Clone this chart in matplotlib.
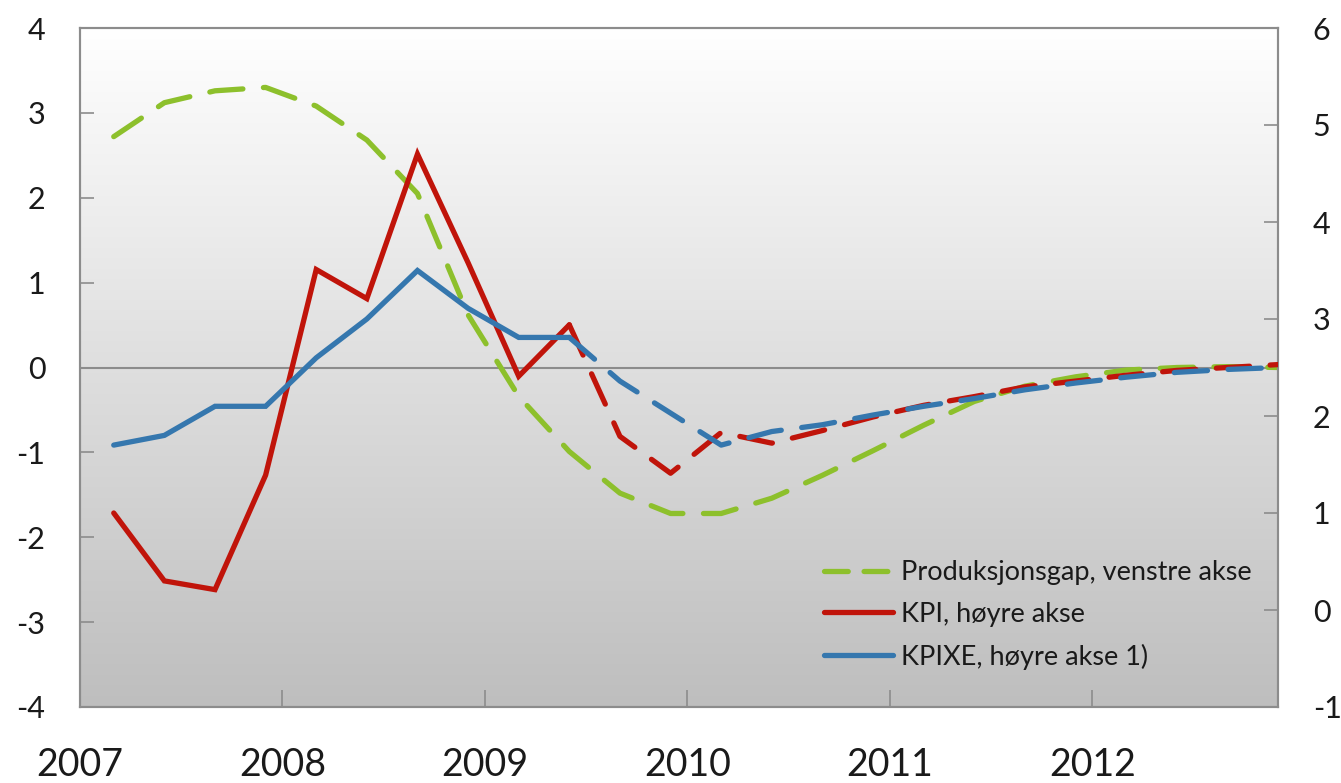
import matplotlib
matplotlib.use("Agg")
import matplotlib.pyplot as plt
import numpy as np
from matplotlib.lines import Line2D
from matplotlib.colors import LinearSegmentedColormap

# ---------------- data ----------------
quarters = [f"{y}Q{q}" for y in range(2007, 2013) for q in range(1, 5)]
produksjonsgap = [2.72, 3.12, 3.26, 3.30, 3.08, 2.68, 2.05, 0.62, -0.34, -0.99,
                  -1.48, -1.72, -1.72, -1.54, -1.27, -0.98, -0.68, -0.40, -0.22,
                  -0.11, -0.03, 0.0, 0.01, 0.0]
kpi = [1.00, 0.30, 0.21, 1.39, 3.51, 3.21, 4.70, 3.58, 2.41, 2.94, 1.79, 1.41,
       1.83, 1.72, 1.85, 1.99, 2.11, 2.20, 2.30, 2.36, 2.42, 2.47, 2.50, 2.53]
kpixe = [1.70, 1.80, 2.10, 2.10, 2.60, 3.00, 3.50, 3.11, 2.81, 2.81, 2.36, 2.03,
         1.70, 1.84, 1.91, 2.01, 2.10, 2.18, 2.27, 2.34, 2.40, 2.45, 2.48, 2.50]
last_actual = "2009Q2"   # red/blue solid up to here, dashed (projection) after
year_ticks = [2007, 2008, 2009, 2010, 2011, 2012]
left_ticks = [-4, -3, -2, -1, 0, 1, 2, 3, 4]
right_ticks = [-1, 0, 1, 2, 3, 4, 5, 6]
labels = ["Produksjonsgap, venstre akse", "KPI, høyre akse", "KPIXE, høyre akse 1)"]

# --------------- positions ----------------
def qpos(s):
    y, q = s.split("Q")
    return int(y) + (int(q) - 1) / 4 + 1 / 6

x = np.array([qpos(s) for s in quarters])
split = quarters.index(last_actual)

GREEN = "#8DC02C"
RED = "#C0140A"
BLUE = "#3577AE"
GRAY = "#8C8C8C"
TXT = "#1A1A1A"

plt.rcParams["font.family"] = ["Lato", "DejaVu Sans"]

fig = plt.figure(figsize=(13.41, 7.83), dpi=100)
ax = fig.add_axes([80 / 1341, 1 - 707 / 783, (1278 - 80) / 1341, (707 - 28) / 783])
ax2 = ax.twinx()

# background gradient
grad = np.linspace(1.0, 0.0, 256).reshape(-1, 1)
cmap = LinearSegmentedColormap.from_list("bg", ["#BEBEBE", "#FFFFFF"])
ax.imshow(grad, extent=[0, 1, 0, 1], transform=ax.transAxes, aspect="auto",
          cmap=cmap, zorder=0, origin="upper", vmin=0, vmax=1)

ax.set_xlim(2007, x[-1])
ax.set_ylim(-4, 4)
ax2.set_ylim(-1, 6)

ax.axhline(0, color=GRAY, lw=1.5, zorder=1)

lw = 3.8
dash = (6.3, 3.9)
ax.plot(x, produksjonsgap, color=GREEN, lw=lw, linestyle=(0, dash),
        dash_capstyle="round", zorder=2)

ax2.plot(x[:split + 1], kpi[:split + 1], color=RED, lw=lw, solid_capstyle="round",
         solid_joinstyle="miter", zorder=3)
ax2.plot(x[split:], kpi[split:], color=RED, lw=lw, linestyle=(0, dash),
         dash_capstyle="round", zorder=3)
ax2.plot(x[:split + 1], kpixe[:split + 1], color=BLUE, lw=lw, solid_capstyle="round",
         solid_joinstyle="miter", zorder=4)
ax2.plot(x[split:], kpixe[split:], color=BLUE, lw=lw, linestyle=(0, dash),
         dash_capstyle="round", zorder=4)

# ticks & spines
ax.set_xticks(year_ticks)
ax.set_xticklabels([str(y) for y in year_ticks],
                   family=["Liberation Sans Narrow", "Lato", "DejaVu Sans"])
ax.set_yticks(left_ticks)
ax.set_yticklabels([str(v) for v in left_ticks])
ax2.set_yticks(right_ticks)
ax2.set_yticklabels([str(v) for v in right_ticks])

for a in (ax, ax2):
    for sp in a.spines.values():
        sp.set_color(GRAY)
        sp.set_linewidth(1.5)
ax.tick_params(axis="x", direction="in", length=12, width=1.2, color=GRAY,
               pad=29, labelsize=27, labelcolor=TXT)
ax.tick_params(axis="y", direction="in", length=10, width=1.2, color=GRAY,
               pad=25, labelsize=22, labelcolor=TXT)
ax2.tick_params(axis="y", direction="in", length=10, width=1.2, color=GRAY,
                pad=25, labelsize=22, labelcolor=TXT)

# legend
handles = [
    Line2D([0], [0], color=GREEN, lw=lw, linestyle=(0, (4.5, 3.0)), dash_capstyle="round"),
    Line2D([0], [0], color=RED, lw=lw, solid_capstyle="round"),
    Line2D([0], [0], color=BLUE, lw=lw, solid_capstyle="round"),
]
leg = ax2.legend(handles, labels, loc="lower right", bbox_to_anchor=(0.994, 0.027),
                 frameon=False, fontsize=19.5, handlelength=2.55, handletextpad=0.3,
                 labelspacing=0.62, borderaxespad=0.3)
for t in leg.get_texts():
    t.set_color(TXT)

fig.savefig("out.png", dpi=100)
